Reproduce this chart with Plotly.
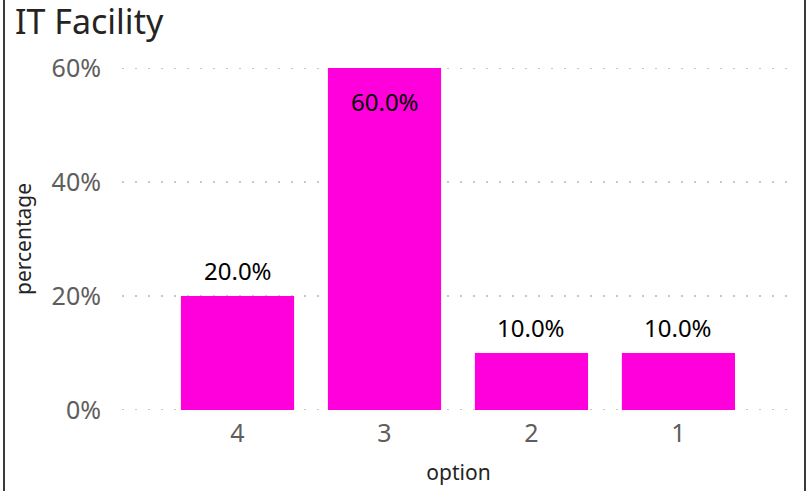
import plotly.graph_objects as go

categories = ["4", "3", "2", "1"]
percentages = [20.0, 60.0, 10.0, 10.0]
y_ticks = [0, 20, 40, 60]
y_tick_labels = ["0%", "20%", "40%", "60%"]

BAR_COLOR = "#FF00DD"
FONT = "Noto Sans"

fig = go.Figure()
fig.add_trace(go.Bar(
    x=categories,
    y=percentages,
    marker=dict(color=BAR_COLOR, line=dict(width=0)),
    width=0.77,
    hoverinfo="skip",
))

ymax = max(y_ticks)
for i, v in enumerate(percentages):
    inside = v >= ymax - 5
    fig.add_annotation(
        x=i, y=v, xref="x", yref="y",
        text=f"{v:.1f}%",
        showarrow=False,
        font=dict(family=FONT, size=24, color="#000000"),
        yanchor="top" if inside else "bottom",
        yshift=-15 if inside else 7,
    )

# dotted gridlines (drawn as shapes so that the edge lines at 0% and 60% show)
for t in y_ticks:
    fig.add_shape(type="line", xref="paper", yref="y", layer="below",
                  x0=0, x1=1, y0=t, y1=t,
                  line=dict(color="#C8C8C8", width=2, dash="2px,11px"))

# frame lines left and right
fig.add_shape(type="line", xref="paper", yref="paper",
              x0=(4 - 122) / 673, x1=(4 - 122) / 673, y0=-0.3, y1=1.3,
              line=dict(color="#3a3a3a", width=2))
fig.add_shape(type="line", xref="paper", yref="paper",
              x0=(805 - 122) / 673, x1=(805 - 122) / 673, y0=-0.3, y1=1.3,
              line=dict(color="#3a3a3a", width=2))

fig.update_layout(
    width=807, height=491,
    margin=dict(l=122, r=12, t=68, b=81),
    paper_bgcolor="white",
    plot_bgcolor="white",
    showlegend=False,
    font=dict(family=FONT),
    title=dict(
        text="IT Facility",
        x=15 / 807, xanchor="left",
        y=1 - 22 / 491, yanchor="middle",
        font=dict(family=FONT, size=34, color="#252423"),
    ),
    xaxis=dict(
        type="category",
        range=[-0.786, 3.793],
        automargin=False,
        showgrid=False,
        zeroline=False,
        showline=False,
        ticks="",
        tickfont=dict(family=FONT, size=25, color="#605E5C"),
        ticklabelstandoff=6,
        title=dict(text="option", font=dict(family=FONT, size=21, color="#252423"), standoff=17),
    ),
    yaxis=dict(
        range=[0, 60],
        automargin=False,
        tickvals=y_ticks,
        ticktext=y_tick_labels,
        showgrid=False,
        zeroline=False,
        showline=False,
        ticks="",
        tickfont=dict(family=FONT, size=25, color="#605E5C"),
        ticklabelstandoff=20,
        title=dict(text="percentage", font=dict(family=FONT, size=21, color="#252423"), standoff=14),
    ),
)

fig.write_html("out.html", config={"displayModeBar": False},
               post_script="document.body.style.margin='0';")
